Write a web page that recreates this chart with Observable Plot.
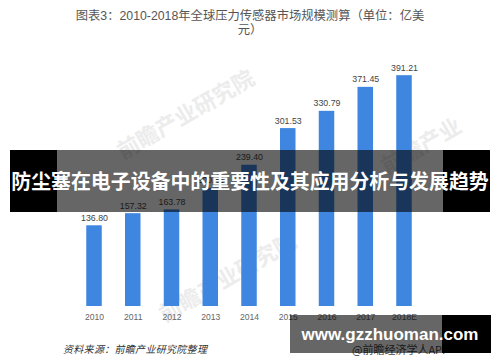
<!DOCTYPE html>
<html>
<head>
<meta charset="utf-8">
<script src="https://cdn.jsdelivr.net/npm/d3@7"></script>
<script src="https://cdn.jsdelivr.net/npm/@observablehq/plot@0.6"></script>
<style>
  html, body { margin: 0; padding: 0; background: #fff; }
  #wrap { position: relative; width: 500px; height: 362px; overflow: hidden;
    font-family: "Liberation Sans", "Noto Sans CJK SC", sans-serif; }
  #chart { position: absolute; left: 0; top: 0; }
  .abs { position: absolute; }
  .wmk { position: absolute; color: #ececec; font-size: 22px; font-weight: bold; white-space: nowrap;
    font-family: "Noto Sans CJK SC", sans-serif; transform-origin: left center; transform: rotate(-30deg); }
  #title { left: 0; width: 500px; top: 9px; text-align: center; font-size: 12.3px; line-height: 14px; color: #555; }
  #source { left: 63px; top: 341px; font-size: 10px; color: #333; font-style: italic; font-family: "Noto Sans CJK SC", sans-serif; letter-spacing: 0.3px; }
  .band { top: 150px; height: 62px; }
  #bandText { left: 0; width: 500px; top: 150px; height: 62px; line-height: 62px; text-align: center; color: #fff;
    font-weight: bold; font-size: 19.9px; font-family: "Noto Sans CJK SC", sans-serif; white-space: nowrap; }
  #wm { left: 352px; top: 341px; font-size: 11px; color: #444; font-family: "Noto Sans CJK SC", sans-serif; white-space: nowrap; }
  #url { left: 290px; width: 200px; top: 315px; height: 38px; line-height: 40px; text-align: center; color: #fff;
    font-weight: bold; font-size: 17px; white-space: nowrap; }
</style>
</head>
<body>
<div id="wrap">
  <div class="wmk" style="left:118px;top:135px;">前瞻产业研究院</div>
  <div class="wmk" style="left:382px;top:150px;">前瞻产业</div>
  <div class="wmk" style="left:160px;top:298px;">前瞻产业研究院</div>
  <div id="chart"></div>
  <div id="title" class="abs">图表3：2010-2018年全球压力传感器市场规模测算（单位：亿美<br>元）</div>
  <div id="source" class="abs">资料来源：前瞻产业研究院整理</div>
  <div class="abs band" style="left:10px;width:47px;background:#000;"></div>
  <div class="abs band" style="left:57px;width:386px;background:rgba(0,0,0,0.6);"></div>
  <div class="abs band" style="left:443px;width:47px;background:#000;"></div>
  <div id="bandText" class="abs">防尘塞在电子设备中的重要性及其应用分析与发展趋势</div>
  <div id="wm" class="abs">@前瞻经济学人APP</div>
  <div class="abs" style="left:290px;width:152px;top:315px;height:38px;background:rgba(0,0,0,0.6);"></div>
  <div class="abs" style="left:442px;width:49px;top:315px;height:38px;background:#000;"></div>
  <div id="url" class="abs">www.gzzhuoman.com</div>
</div>
<script>
const years = ["2010", "2011", "2012", "2013", "2014", "2015", "2016", "2017", "2018E"];
const values = [136.80, 157.32, 163.78, 200.45, 239.40, 301.53, 330.79, 371.45, 391.21];
const data = years.map((y, i) => ({year: y, value: values[i]}));

const chart = Plot.plot({
  width: 500,
  height: 362,
  marginTop: 70,
  marginBottom: 56,
  marginLeft: 63,
  marginRight: 65,
  style: {fontFamily: "Liberation Sans, sans-serif", background: "transparent"},
  x: {domain: years, padding: 0.6, round: false, label: null, tickSize: 0, tickPadding: 7},
  y: {domain: [0, 400], axis: null},
  marks: [
    Plot.barY(data, {x: "year", y: "value", fill: "#3f86e0"}),
    Plot.text(data, {x: "year", y: "value", text: d => d.value.toFixed(2), dy: -5, lineAnchor: "bottom",
      fontSize: 8.8, fill: "#444"}),
    Plot.axisX({tickSize: 0, tickPadding: 7, fontSize: 8.6, color: "#666", label: null})
  ]
});
document.getElementById("chart").appendChild(chart);
</script>
</body>
</html>
